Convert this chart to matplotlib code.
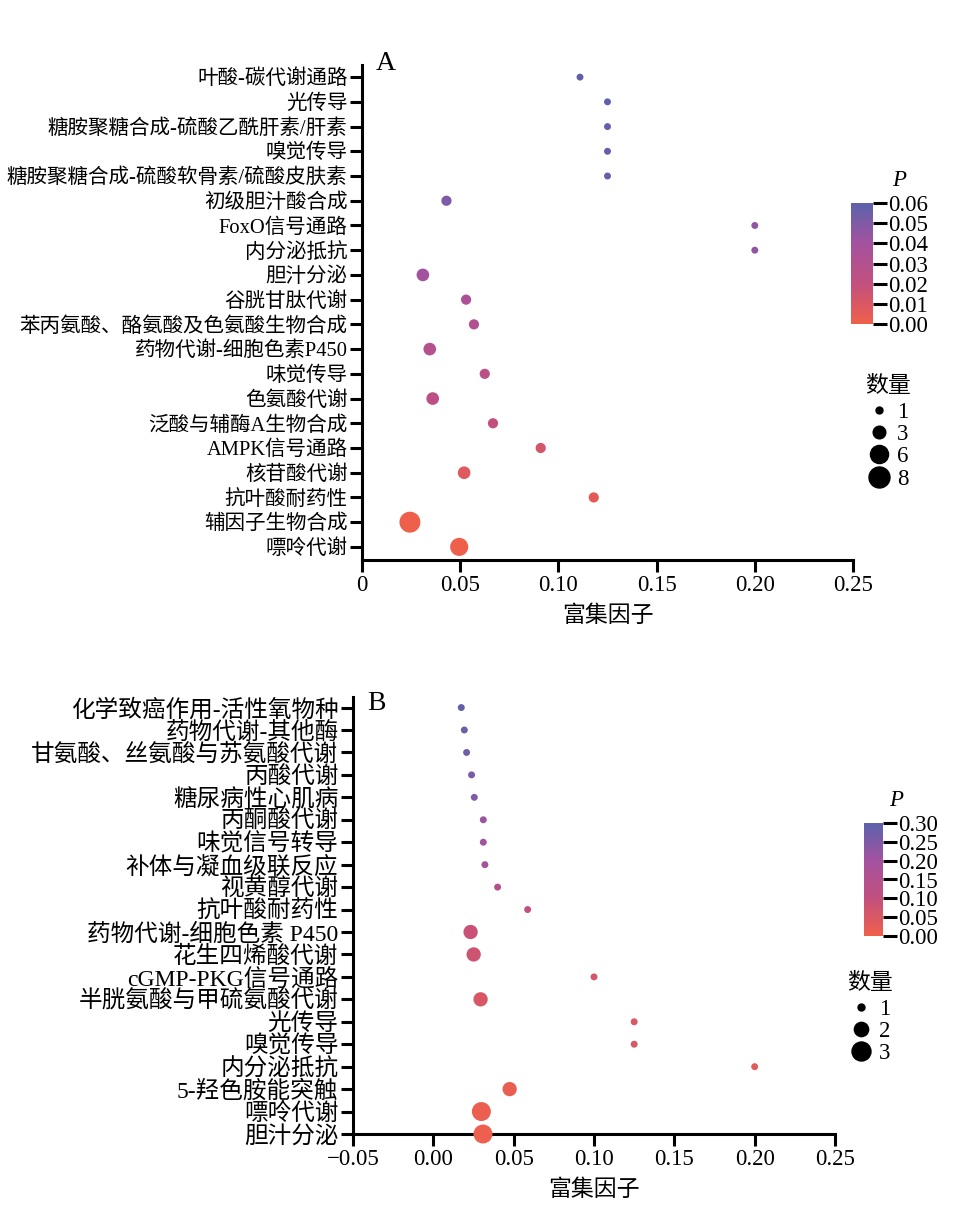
import matplotlib
matplotlib.use('Agg')
import matplotlib.pyplot as plt
from matplotlib.colors import LinearSegmentedColormap, Normalize
from matplotlib.lines import Line2D
import numpy as np

plt.rcParams['font.family'] = ['Liberation Serif', 'Noto Sans CJK SC']
plt.rcParams['axes.unicode_minus'] = True

# ---------------- Panel A data (listed top to bottom) ----------------
pathways_a = [
    '叶酸-碳代谢通路', '光传导', '糖胺聚糖合成-硫酸乙酰肝素/肝素', '嗅觉传导',
    '糖胺聚糖合成-硫酸软骨素/硫酸皮肤素', '初级胆汁酸合成', 'FoxO信号通路', '内分泌抵抗',
    '胆汁分泌', '谷胱甘肽代谢', '苯丙氨酸、酪氨酸及色氨酸生物合成', '药物代谢-细胞色素P450',
    '味觉传导', '色氨酸代谢', '泛酸与辅酶A生物合成', 'AMPK信号通路',
    '核苷酸代谢', '抗叶酸耐药性', '辅因子生物合成', '嘌呤代谢',
]
rich_a = [0.111, 0.125, 0.125, 0.125, 0.125, 0.043, 0.200, 0.200,
          0.031, 0.053, 0.057, 0.0345, 0.0625, 0.036, 0.0667, 0.091,
          0.052, 0.118, 0.0244, 0.0495]
count_a = [1, 1, 1, 1, 1, 2, 1, 1, 3, 2, 2, 3, 2, 3, 2, 2, 3, 2, 8, 6]
p_a = [0.058, 0.058, 0.058, 0.058, 0.058, 0.050, 0.045, 0.045,
       0.040, 0.035, 0.031, 0.029, 0.026, 0.024, 0.020, 0.012,
       0.008, 0.006, 0.001, 0.001]
xticks_a = [0, 0.05, 0.10, 0.15, 0.20, 0.25]
xticklabels_a = ['0', '0.05', '0.10', '0.15', '0.20', '0.25']
cbar_ticks_a = [0.00, 0.01, 0.02, 0.03, 0.04, 0.05, 0.06]
legend_counts_a = [1, 3, 6, 8]

# ---------------- Panel B data (listed top to bottom) ----------------
pathways_b = [
    '化学致癌作用-活性氧物种', '药物代谢-其他酶', '甘氨酸、丝氨酸与苏氨酸代谢', '丙酸代谢',
    '糖尿病性心肌病', '丙酮酸代谢', '味觉信号转导', '补体与凝血级联反应',
    '视黄醇代谢', '抗叶酸耐药性', '药物代谢-细胞色素 P450', '花生四烯酸代谢',
    'cGMP-PKG信号通路', '半胱氨酸与甲硫氨酸代谢', '光传导', '嗅觉传导',
    '内分泌抵抗', '5-羟色胺能突触', '嘌呤代谢', '胆汁分泌',
]
rich_b = [0.0174, 0.0193, 0.0207, 0.0238, 0.0255, 0.0311, 0.0311, 0.0321,
          0.040, 0.0587, 0.0232, 0.0251, 0.100, 0.0294, 0.125, 0.125,
          0.200, 0.0475, 0.0299, 0.0309]
count_b = [1, 1, 1, 1, 1, 1, 1, 1, 1, 1, 2, 2, 1, 2, 1, 1, 1, 2, 3, 3]
p_b = [0.29, 0.28, 0.27, 0.26, 0.25, 0.21, 0.20, 0.19,
       0.15, 0.10, 0.085, 0.075, 0.065, 0.055, 0.05, 0.05,
       0.035, 0.015, 0.010, 0.008]
xticks_b = [-0.05, 0.00, 0.05, 0.10, 0.15, 0.20, 0.25]
xticklabels_b = ['\u22120.05', '0.00', '0.05', '0.10', '0.15', '0.20', '0.25']
cbar_ticks_b = [0.00, 0.05, 0.10, 0.15, 0.20, 0.25, 0.30]
legend_counts_b = [1, 2, 3]

cmap = LinearSegmentedColormap.from_list(
    'pcmap', ['#F0604A', '#C2507E', '#A4529F', '#5B62AC'])

FS = 16.5
W, H = 963, 1214
fig = plt.figure(figsize=(W / 100, H / 100), dpi=100)


def fx(px):
    return px / W


def fy(py):
    return 1 - py / H


def size_a(n):
    return 25 + 29 * (np.asarray(n) - 1)


def size_b(n):
    return 25 + 81 * (np.asarray(n) - 1)


def panel(rect, names, rich, counts, pvals, vmax, sizef, xlim, ylim,
          xticks, xticklabels, letter, letter_xy, yfs):
    ax = fig.add_axes(rect)
    n = len(names)
    ypos = np.arange(n)[::-1]
    norm = Normalize(0, vmax)
    sc = ax.scatter(rich, ypos, s=sizef(counts), c=pvals, cmap=cmap,
                    norm=norm, edgecolors='none', zorder=3, clip_on=False)
    ax.set_xlim(*xlim)
    ax.set_ylim(*ylim)
    ax.set_yticks(ypos)
    ax.set_yticklabels(names, fontsize=yfs)
    ax.set_xticks(xticks)
    ax.set_xticklabels(xticklabels, fontsize=FS)
    for s in ['top', 'right']:
        ax.spines[s].set_visible(False)
    for s in ['left', 'bottom']:
        ax.spines[s].set_linewidth(2.2)
    ax.tick_params(axis='both', length=8.5, width=2.2, pad=2)
    ax.set_xlabel('富集因子', fontsize=FS, labelpad=7)
    fig.text(letter_xy[0], letter_xy[1], letter, fontsize=20,
             ha='center', va='center')
    return ax, sc, norm


# Panel A
axA, scA, normA = panel(
    [fx(362), fy(560), fx(853) - fx(362), fy(65) - fy(560)],
    pathways_a, rich_a, count_a, p_a, 0.06, size_a,
    (0, 0.25), (-0.53, 19.49), xticks_a, xticklabels_a, 'A',
    (fx(386), fy(64)), 14.8)

# Panel B
axB, scB, normB = panel(
    [fx(353), fy(1134), fx(835) - fx(353), fy(697) - fy(1134)],
    pathways_b, rich_b, count_b, p_b, 0.30, size_b,
    (-0.05, 0.25), (0, 19.47), xticks_b, xticklabels_b, 'B',
    (fx(376), fy(703)), 17)


def colorbar(rect, sc, ticks, fmt, ptxt_xy):
    cax = fig.add_axes(rect)
    cb = fig.colorbar(sc, cax=cax, ticks=ticks)
    cb.outline.set_visible(False)
    cb.ax.tick_params(length=10, width=2.2, labelsize=FS, pad=1)
    cb.ax.set_yticklabels([fmt.format(t) for t in ticks])
    fig.text(ptxt_xy[0], ptxt_xy[1], 'P', fontsize=FS, style='italic',
             ha='center', va='center')
    return cb


colorbar([fx(851), fy(324), fx(873) - fx(851), fy(203) - fy(324)],
         scA, cbar_ticks_a, '{:.2f}', (fx(899), fy(181)))
colorbar([fx(864), fy(936), fx(883) - fx(864), fy(823) - fy(936)],
         scB, cbar_ticks_b, '{:.2f}', (fx(896), fy(800)))


def size_legend(counts, sizef, title_xy, anchor):
    fig.text(title_xy[0], title_xy[1], '数量', fontsize=FS,
             ha='center', va='center')
    handles = [Line2D([], [], linestyle='none', marker='o',
                      markersize=np.sqrt(sizef(c)), markerfacecolor='black',
                      markeredgecolor='black') for c in counts]
    leg = fig.legend(handles, [str(c) for c in counts],
                     loc='upper center', bbox_to_anchor=anchor,
                     frameon=False, fontsize=FS,
                     labelspacing=0.05, handletextpad=0.3, handlelength=1.0,
                     borderpad=0, borderaxespad=0)
    return leg


size_legend(legend_counts_a, size_a, (fx(888), fy(386)), (fx(888), fy(402)))
size_legend(legend_counts_b, size_b, (fx(870), fy(983)), (fx(870), fy(999)))

fig.savefig('out.png', dpi=100)
